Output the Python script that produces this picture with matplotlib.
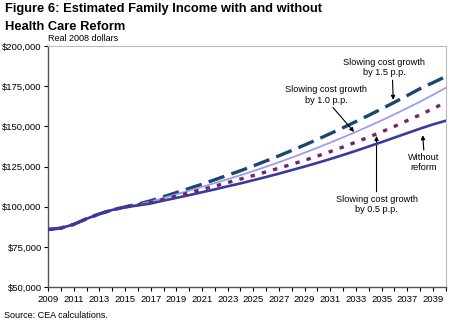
import matplotlib
matplotlib.use("Agg")
import matplotlib.pyplot as plt
from matplotlib.ticker import FuncFormatter, MultipleLocator

plt.rcParams["font.family"] = ["Liberation Sans", "DejaVu Sans"]

years = list(range(2009, 2041))

# thousands of real 2008 dollars
without_reform = [85.8, 86.7, 89.0, 92.5, 95.5, 98.0, 99.6, 100.8, 102.0, 103.8,
                  105.5, 107.2, 109.0, 110.8, 112.7, 114.5, 116.5, 118.5, 120.6, 122.8,
                  125.0, 127.3, 129.7, 132.2, 134.8, 137.5, 140.2, 143.0, 145.8, 148.6,
                  151.2, 153.5]
slow_05 = [85.8, 86.7, 89.0, 92.5, 95.5, 98.0, 99.8, 101.2, 102.7, 104.6,
           106.6, 108.6, 110.7, 112.8, 115.0, 117.2, 119.4, 121.7, 124.0, 126.4,
           128.9, 131.5, 134.3, 137.2, 140.2, 143.3, 146.6, 150.0, 153.6, 157.2,
           161.0, 165.0]
slow_10 = [85.8, 86.7, 89.0, 92.5, 95.5, 98.0, 99.8, 101.3, 103.2, 105.4,
           107.7, 110.0, 112.3, 114.7, 117.1, 119.6, 122.2, 124.9, 127.7, 130.6,
           133.6, 136.7, 139.9, 143.2, 146.6, 150.1, 153.7, 157.5, 161.4, 165.4,
           169.6, 174.0]
slow_15 = [85.8, 86.7, 89.0, 92.5, 95.5, 98.0, 99.9, 101.6, 103.7, 106.2,
           108.8, 111.4, 114.0, 116.8, 119.6, 122.4, 125.4, 128.5, 131.7, 135.0,
           138.4, 141.9, 145.5, 149.2, 153.0, 156.9, 160.9, 165.0, 169.2, 173.5,
           177.2, 181.0]

tick_years = list(range(2009, 2040, 2))


def main():
    fig = plt.figure(figsize=(4.5, 3.24), dpi=100)
    ax = fig.add_axes([0.1067, 0.114, 0.884, 0.744])

    k = 1000
    ax.plot(years, [v * k for v in slow_15], color="#1B4670", lw=2.4,
            dashes=(5, 2.2), zorder=3)
    ax.plot(years, [v * k for v in slow_10], color="#9C9CF0", lw=1.3, zorder=4)
    ax.plot(years, [v * k for v in slow_05], color="#7A1F6E", lw=2.4,
            dashes=(1.3, 2.2), zorder=5)
    ax.plot(years, [v * k for v in without_reform], color="#3A3A9C", lw=1.9, zorder=6)

    ax.set_xlim(2009, 2040)
    ax.set_ylim(50000, 200000)
    ax.yaxis.set_major_locator(MultipleLocator(25000))
    ax.yaxis.set_major_formatter(FuncFormatter(lambda v, p: f"${v:,.0f}"))
    ax.set_xticks(years, minor=False)
    ax.set_xticklabels([str(y) if y in tick_years else "" for y in years])

    for side in ["top", "right"]:
        ax.spines[side].set_color("#BBBBBB")
        ax.spines[side].set_linewidth(0.8)
    for side in ["left", "bottom"]:
        ax.spines[side].set_color("#555555")
        ax.spines[side].set_linewidth(1.0)
    ax.tick_params(axis="both", labelsize=6.8, colors="#000000", length=3,
                   width=0.8, pad=2)
    ax.tick_params(axis="y", direction="out", pad=1.5)
    ax.tick_params(axis="x", direction="out", pad=3)

    arrow = dict(arrowstyle="-|>", color="black", lw=0.8, mutation_scale=6,
                 shrinkA=0, shrinkB=0)
    fs = 6.6
    ax.annotate("Slowing cost growth\nby 1.5 p.p.", xy=(2035.9, 166500),
                xytext=(2035.2, 186500), ha="center", va="center", fontsize=fs,
                arrowprops=dict(arrow, relpos=(0.6, 0.0)))
    ax.annotate("Slowing cost growth\nby 1.0 p.p.", xy=(2032.85, 146500),
                xytext=(2030.7, 169500), ha="center", va="center", fontsize=fs,
                arrowprops=dict(arrow, relpos=(0.55, 0.0)))
    ax.annotate("Without\nreform", xy=(2038.2, 144500),
                xytext=(2038.3, 127500), ha="center", va="center", fontsize=fs,
                arrowprops=dict(arrow, relpos=(0.5, 1.0)))
    ax.annotate("Slowing cost growth\nby 0.5 p.p.", xy=(2034.6, 144000),
                xytext=(2034.6, 101500), ha="center", va="center", fontsize=fs,
                arrowprops=dict(arrow, relpos=(0.5, 1.0)))

    fig.text(0.012, 0.99, "Figure 6: Estimated Family Income with and without\nHealth Care Reform",
             ha="left", va="top", fontsize=9.3, fontweight="bold", linespacing=1.6)
    fig.text(0.107, 0.868, "Real 2008 dollars", ha="left", va="bottom", fontsize=6.5)
    fig.text(0.008, 0.012, "Source: CEA calculations.", ha="left", va="bottom", fontsize=6.5)

    fig.savefig("out.png", dpi=100)
    plt.close(fig)


if __name__ == "__main__":
    main()
